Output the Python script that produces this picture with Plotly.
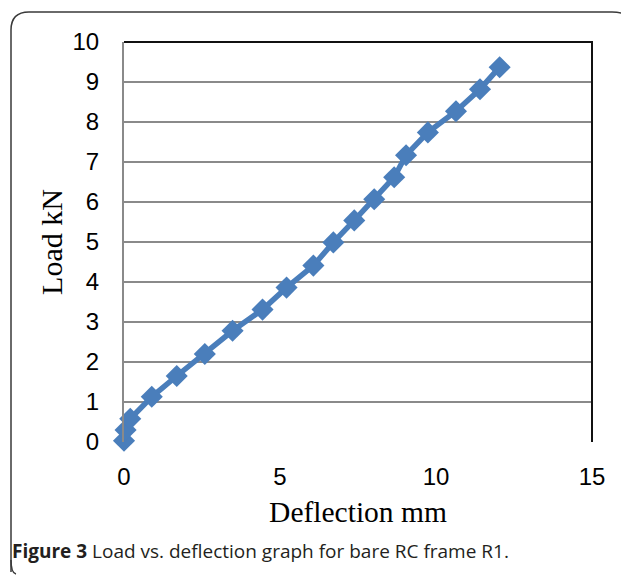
import plotly.graph_objects as go

deflection_mm = [0.0, 0.05, 0.2, 0.89, 1.69, 2.59, 3.48, 4.44, 5.21, 6.07, 6.71, 7.38, 8.02, 8.66, 9.04, 9.74, 10.64, 11.41, 12.04]
load_kN = [0.03, 0.3, 0.58, 1.13, 1.65, 2.2, 2.78, 3.31, 3.86, 4.41, 4.99, 5.54, 6.07, 6.62, 7.17, 7.74, 8.27, 8.82, 9.37]
x_ticks = [0, 5, 10, 15]
y_ticks = list(range(0, 11))

OFF = 8  # page offset of the figure inside the window
W, H = 629 - OFF, 575 - OFF
L, R, T, B = 116, 37, 34, 133
pw, ph = W - L - R, H - T - B

def px(x):
    return (x - OFF - L) / pw

def py(y):
    return (H - B - (y - OFF)) / ph

fig = go.Figure()
fig.add_trace(go.Scatter(
    x=deflection_mm, y=load_kN, mode="lines+markers",
    line=dict(color="#4a7ebb", width=5.5),
    marker=dict(symbol="diamond", size=17, color="#4a7ebb"),
    showlegend=False, cliponaxis=False,
))

# outer rounded frame
r = 18
path = (f"M {px(11)},{py(572)} L {px(11)},{py(12 + r)} "
        f"Q {px(11)},{py(12)} {px(11 + r)},{py(12)} "
        f"L {px(612)},{py(12)} Q {px(627)},{py(12)} {px(631)},{py(20)}")
fig.add_shape(type="path", path=path, xref="paper", yref="paper",
              line=dict(color="#3a3a3a", width=1.5))
fig.add_shape(type="path",
              path=f"M {px(11)},{py(560)} Q {px(11)},{py(573)} {px(16)},{py(574)}",
              xref="paper", yref="paper", line=dict(color="#3a3a3a", width=1.5))
# plot area top and right borders
fig.add_shape(type="path", path="M 0,1 L 1,1 L 1,0", xref="paper", yref="paper",
              line=dict(color="#111111", width=2))

fig.add_annotation(
    x=px(10), y=py(551), xref="paper", yref="paper", xanchor="left", yanchor="middle",
    text="<b>Figure 3</b> Load vs. deflection graph for bare RC frame R1.",
    showarrow=False, font=dict(family="Open Sans", size=19, color="#231f20"),
)

fig.update_layout(
    width=W, height=H, margin=dict(l=L, r=R, t=T, b=B, autoexpand=False),
    paper_bgcolor="white", plot_bgcolor="white",
    xaxis=dict(range=[0, 15], tickvals=x_ticks, showgrid=False, zeroline=False,
               showline=False, ticks="", ticklabelstandoff=18,
               tickfont=dict(family="Liberation Sans", size=24, color="black"),
               title=dict(text="Deflection mm", standoff=12,
                          font=dict(family="Liberation Serif", size=29.5, color="black"))),
    yaxis=dict(range=[0, 10], tickvals=y_ticks, showgrid=True, gridcolor="#8a8a8a",
               gridwidth=2, zeroline=False, showline=True, linecolor="#8a8a8a",
               linewidth=2, ticks="", ticklabelstandoff=18,
               tickfont=dict(family="Liberation Sans", size=24, color="black"),
               title=dict(text="Load kN", standoff=1,
                          font=dict(family="Liberation Serif", size=30, color="black"))),
)

fig.write_html("out.html")
